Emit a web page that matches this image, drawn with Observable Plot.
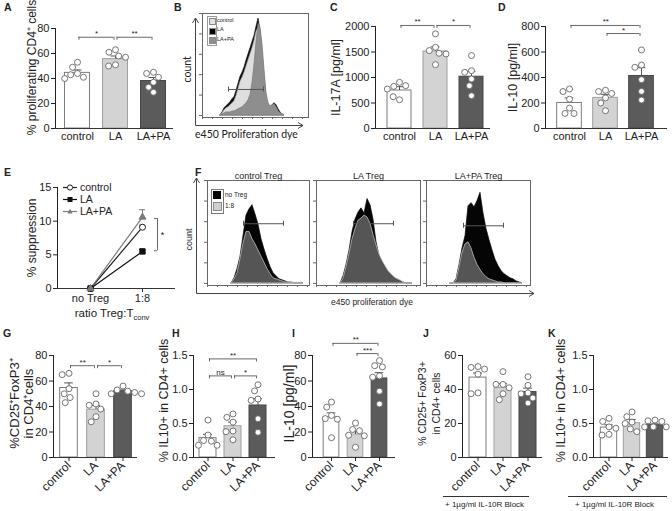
<!DOCTYPE html>
<html>
<head>
<meta charset="utf-8">
<script src="https://cdn.jsdelivr.net/npm/d3@7"></script>
<script src="https://cdn.jsdelivr.net/npm/@observablehq/plot@0.6"></script>
<style>
  html, body { margin: 0; padding: 0; background: #fff; }
  #fig { position: relative; width: 672px; height: 511px; overflow: hidden; background: #fff;
         font-family: 'Liberation Sans', Arial, sans-serif; color: #222; }
</style>
</head>
<body>
<div id="fig"></div>
<script>
// ================= DATA =================
const cats = ["control", "LA", "LA+PA"];

// A: % proliferating CD4+ cells
const aControl = [53, 49, 44, 43, 41, 40];
const aLA = [63, 61, 58, 57, 51, 50];
const aLAPA = [45, 44, 41, 37, 33, 29];
const aMean = [44.5, 55.5, 38];
const aSem = [2.3, 2.5, 2.8];
const aTicks = [0, 20, 40, 60, 80];
const aSig = [{a: "control", b: "LA", y: 73, label: "*"}, {a: "LA", b: "LA+PA", y: 73, label: "**"}];

// C: IL-17A [pg/ml]
const cControl = [905, 826, 840, 774, 564, 623];
const cLA = [1856, 1593, 1528, 1475, 1462, 1252];
const cLAPA = [1430, 1134, 1102, 970, 839, 643];
const cMean = [745, 1510, 1015];
const cSem = [75, 90, 105];
const cTicks = [0, 500, 1000, 1500, 2000];
const cSig = [{a: "control", b: "LA", y: 2020, label: "**"}, {a: "LA", b: "LA+PA", y: 2020, label: "*"}];

// D: IL-10 [pg/ml]
const dControl = [310, 290, 230, 160, 118, 118];
const dLA = [300, 290, 275, 240, 200, 139];
const dLAPA = [616, 498, 480, 383, 291, 223];
const dMean = [200, 240, 412];
const dSem = [40, 28, 65];
const dTicks = [0, 200, 400, 600, 800];
const dSig = [{a: "control", b: "LA+PA", y: 808, label: "**"}, {a: "LA", b: "LA+PA", y: 745, label: "*"}];

// G: %CD25+FoxP3+ in CD4+ cells
const gControl = [66, 65, 54, 50, 47, 43];
const gLA = [50, 42, 41, 38, 32, 28];
const gLAPA = [56, 53, 52, 51, 50, 50];
const gMean = [54.5, 37.5, 52];
const gSem = [4, 3.3, 1];
const gTicks = [0, 20, 40, 60, 80];
const gSig = [{a: "control", b: "LA", y: 72, label: "**"}, {a: "LA", b: "LA+PA", y: 72, label: "*"}];

// H: % IL10+ in CD4+ cells
const hControl = [0.55, 0.33, 0.25, 0.24, 0.18, 0.18];
const hLA = [0.64, 0.59, 0.52, 0.39, 0.38, 0.26];
const hLAPA = [1.07, 0.98, 0.86, 0.84, 0.57, 0.37];
const hMean = [0.285, 0.46, 0.765];
const hSem = [0.055, 0.06, 0.1];
const hTicks = [0, 0.5, 1, 1.5];
const hSig = [{a: "control", b: "LA+PA", y: 1.45, label: "**"}, {a: "control", b: "LA", y: 1.2, label: "ns"}, {a: "LA", b: "LA+PA", y: 1.2, label: "*"}];

// I: IL-10 [pg/ml]
const iControl = [43.5, 39.5, 33, 30.5, 30, 15.5];
const iLA = [27, 22, 21, 17.5, 17, 8];
const iLAPA = [76, 72, 71, 64, 63, 52, 42];
const iMean = [31.5, 18, 62];
const iSem = [3.5, 2.2, 4.5];
const iTicks = [0, 20, 40, 60, 80];
const iSig = [{a: "control", b: "LA+PA", y: 89.5, label: "**"}, {a: "LA", b: "LA+PA", y: 81.5, label: "***"}];

// J: % CD25+ FoxP3+ in CD4+ cells (+ IL-10R block)
const jControl = [53.5, 53, 52, 49, 38, 37.5];
const jLA = [50.5, 43, 43, 41, 37.5, 34];
const jLAPA = [47.5, 42.5, 38, 37.5, 35, 32];
const jMean = [47, 41, 38.5];
const jSem = [2.7, 2.4, 2.3];
const jTicks = [0, 20, 40, 60];

// K: % IL10+ in CD4+ cells (+ IL-10R block)
const kControl = [0.575, 0.53, 0.45, 0.43, 0.34, 0.33];
const kLA = [0.67, 0.6, 0.52, 0.5, 0.42, 0.38];
const kLAPA = [0.55, 0.54, 0.53, 0.45, 0.45, 0.45];
const kMean = [0.44, 0.505, 0.475];
const kSem = [0.04, 0.055, 0.02];
const kTicks = [0, 0.5, 1, 1.5];

// E: % suppression
const eRatio = ["no Treg", "1:8"];
const eControl = [0, 9.1];
const eControlSem = [0, 0.3];
const eLA = [0, 5.5];
const eLASem = [0, 0.35];
const eLAPA = [0, 10.6];
const eLAPASem = [0, 1.1];
const eTicks = [0, 5, 10, 15];
const eSig = {r: "1:8", y1: 5.6, y2: 10.4, label: "*"};

// B: proliferation histograms (counts per dye bin)
const bBins = [18,20,22,24,26,28,30,32,34,36,38,40,42,44,46,48,50,52,54,56,58,60,62,64,66,68,70,72,74,76,78,80,82];
const bLA =      [0,3,7,9,11,13,16,18,24,31,38,42,47,54,60,66,72,78,87,95,83,59,35,17,10,6,10,12,10,6,3,1,0];
const bControl = [0,2,5,7,8,10,12,14,19,26,33,37,42,48,54,60,66,73,82,86,80,62,38,18,10,7,8,9,7,4,2,1,0];
const bLAPA =    [0,1,2,3,3,3,4,4,5,6,7,8,10,12,15,20,32,50,72,90,86,70,45,22,12,9,10,11,8,4,2,1,0];
const bGate = {x1: 26, x2: 61, y: 25.5};

// F: suppression histograms
const fBins = [24,27,30,33,36,39,42,45,48,51,54,57,60,63,66,69,72,75,78,81,84,87,90,93,96];
const fControlNoTreg = [0,5,14,26,46,66,72,76,67,57,43,33,24,16,10,7,4,3,2,1,1,0,0,0,0];
const fControl18 =     [0,4,10,24,39,50,50,43,38,32,26,20,14,9,5,4,3,2,1,1,1,0,0,0,0];
const fLANoTreg =      [0,7,18,32,50,62,69,73,68,82,76,62,40,27,19,14,10,8,5,4,2,1,0,0,0];
const fLA18 =          [0,5,16,29,43,53,61,63,66,64,58,47,37,28,22,17,12,9,6,4,3,1,0,0,0];
const fLAPANoTreg =    [0,0,4,18,34,46,75,78,74,80,88,68,53,42,32,23,17,12,9,7,5,4,2,1,0];
const fLAPA18 =        [0,0,3,16,30,38,40,34,25,18,13,9,6,4,3,2,1,1,0,0,0,0,0,0,0];
const fTitles = ["control Treg", "LA Treg", "LA+PA Treg"];
const fGates = [{x1: 36, x2: 76, y: 58}, {x1: 37, x2: 77, y: 58}, {x1: 37, x2: 77, y: 56}];

// ================= DRAWING =================
const fig = document.getElementById("fig");
const FONT = "'Liberation Sans', Arial, Helvetica, sans-serif";
const baseStyle = {background: "transparent", fontFamily: FONT, fontSize: "11px", color: "#222", overflow: "visible"};
const barFills = ["#ffffff", "#d3d3d3", "#5b5b5b"];
const barStrokes = ["#7d7d7d", "#a0a0a0", "#474747"];

function put(node, left, top) {
  node.style.position = "absolute";
  node.style.left = left + "px";
  node.style.top = top + "px";
  fig.appendChild(node);
  return node;
}
function html(content, left, top, css) {
  const d = document.createElement("div");
  if (css) d.style.cssText = css;
  d.innerHTML = content;
  return put(d, left, top);
}

// decorative arrow axes for the flow histograms
const ns = "http://www.w3.org/2000/svg";
const deco = document.createElementNS(ns, "svg");
deco.setAttribute("width", 672);
deco.setAttribute("height", 511);
function arrowAxes(x0, y0, yEnd, xEnd) {
  const p = document.createElementNS(ns, "path");
  p.setAttribute("d", `M${x0},${y0}V${yEnd}M${x0 - 3},${yEnd + 5}L${x0},${yEnd}L${x0 + 3},${yEnd + 5}M${x0},${y0}H${xEnd}M${xEnd - 5},${y0 - 3}L${xEnd},${y0}L${xEnd - 5},${y0 + 3}`);
  p.setAttribute("fill", "none");
  p.setAttribute("stroke", "#444");
  p.setAttribute("stroke-width", "1");
  deco.appendChild(p);
}
arrowAxes(195.5, 125.5, 18, 303);
arrowAxes(196.5, 293.5, 178, 534);
put(deco, 0, 0);

function barPanel(o) {
  const ml = o.fx0 - o.left, mr = o.left + o.width - o.fx1;
  const mt = o.yTop - o.top, mb = o.top + o.height - o.yBot;
  const bw = (o.bx1 - o.bx0) / cats.length;
  const inset = (bw - o.barW) / 2;
  const summary = cats.map((c, i) => ({cat: c, mean: o.means[i], top: o.means[i] + o.sems[i]}));
  const dots = cats.flatMap((c, i) => o.points[i].map(v => ({cat: c, v})));
  const gap = 1.5;
  const br = o.brackets || [];
  const sty = {stroke: "#444", strokeWidth: 0.8};
  const yDomain = [o.ticks[0], o.ticks[o.ticks.length - 1]];
  const p1 = Plot.plot({
    width: o.width, height: o.height,
    marginLeft: ml, marginRight: mr, marginTop: mt, marginBottom: mb,
    style: baseStyle,
    x: {domain: cats, padding: 0, insetLeft: o.bx0 - o.fx0, insetRight: o.fx1 - o.bx1},
    y: {domain: yDomain, ticks: o.ticks, tickFormat: o.fmt || (d => String(d)), tickSize: 4, tickPadding: 2, line: true, label: null},
    marks: [
      ...cats.map((c, i) => Plot.barY(summary.filter(d => d.cat === c), {x: "cat", y: "mean", fill: barFills[i], stroke: barStrokes[i], strokeWidth: 1, insetLeft: inset, insetRight: inset})),
      Plot.ruleX(summary, {x: "cat", y1: "mean", y2: "top", stroke: "#555"}),
      Plot.tickY(summary, {x: "cat", y: "top", stroke: "#555", insetLeft: bw / 2 - 4.5, insetRight: bw / 2 - 4.5}),
      Plot.ruleY([o.ticks[0]], {stroke: "#333"}),
      Plot.axisX({tickSize: o.rotate ? 4 : 0, tickPadding: o.rotate ? 2 : 4, tickRotate: o.rotate ? -45 : 0, fontSize: o.rotate ? 12 : 11, label: null}),
      Plot.ruleY(br, {x1: "a", x2: "b", y: "y", insetLeft: bw / 2 + gap, insetRight: bw / 2 + gap, ...sty}),
      Plot.ruleX(br, {x: "a", y1: "y", y2: "y", dx: gap, insetBottom: -3, ...sty}),
      Plot.ruleX(br, {x: "b", y1: "y", y2: "y", dx: -gap, insetBottom: -3, ...sty}),
      ...br.map(b => Plot.text([b], {x: "a", y: "y", text: "label", dx: (cats.indexOf(b.b) - cats.indexOf(b.a)) * bw / 2, dy: -1, lineAnchor: "bottom", fontSize: 8})),
      Plot.text([o.ylabel], {text: d => d, frameAnchor: "left", textAnchor: "middle", rotate: -90, dx: o.ylx - o.fx0, dy: o.yly - (o.yTop + o.yBot) / 2, fontSize: o.ylSize, lineHeight: o.lineHeight || 1.1})
    ]
  });
  put(p1, o.left, o.top);
  const p2 = Plot.plot({
    width: o.width, height: o.height,
    marginLeft: o.bx0 - o.left, marginRight: o.left + o.width - o.bx1, marginTop: mt, marginBottom: mb,
    style: baseStyle,
    fx: {domain: cats, padding: 0, axis: null, label: null},
    y: {domain: yDomain, axis: null},
    marks: [
      Plot.dot(dots, Plot.dodgeX("middle", {fx: "cat", y: "v", r: 3, fill: "white", stroke: "#666", strokeWidth: 0.9}))
    ]
  });
  put(p2, o.left, o.top);
}

function histPanel(o) {
  const fw = o.fx1 - o.fx0;
  const marks = [
    ...o.layers.map(l => Plot.areaY(o.bins.map((b, i) => ({b, c: l.values[i]})), {x: "b", y: "c", fill: l.fill, stroke: l.stroke, strokeWidth: 0.7, curve: "linear"})),
    Plot.frame({stroke: "#666"}),
    Plot.axisY({ticks: 4, tickSize: 3, tickFormat: () => "", label: null, stroke: "#666"}),
    Plot.axisX({ticks: 14, tickSize: 2, tickFormat: () => "", label: null, stroke: "#666"}),
    Plot.ruleY([o.gate], {x1: "x1", x2: "x2", y: "y", stroke: "#555"}),
    Plot.ruleX([o.gate], {x: "x1", y1: "y", y2: "y", insetTop: -2.5, insetBottom: -2.5, stroke: "#555"}),
    Plot.ruleX([o.gate], {x: "x2", y1: "y", y2: "y", insetTop: -2.5, insetBottom: -2.5, stroke: "#555"})
  ];
  if (o.title) marks.push(Plot.text([o.title], {text: d => d, frameAnchor: "top", dy: -2, lineAnchor: "bottom", fontSize: 9}));
  const p = Plot.plot({
    width: o.width, height: o.height,
    marginLeft: o.fx0 - o.left, marginRight: o.left + o.width - o.fx1,
    marginTop: o.fy0 - o.top, marginBottom: o.top + o.height - o.fy1,
    style: baseStyle,
    x: {domain: [0, fw]},
    y: {domain: [-2, 100]},
    marks
  });
  put(p, o.left, o.top);
}

// ---- Row 1 bar panels
barPanel({left: 0, top: 0, width: 178, height: 150, fx0: 55, fx1: 173, yTop: 28, yBot: 128, bx0: 58, bx1: 172, barW: 25,
  ticks: aTicks, means: aMean, sems: aSem, points: [aControl, aLA, aLAPA], brackets: aSig,
  ylabel: "% proliferating CD4⁺ cells", ylx: 31, yly: 67, ylSize: 12});
barPanel({left: 320, top: 0, width: 175, height: 150, fx0: 375, fx1: 490, yTop: 26, yBot: 128, bx0: 381, bx1: 489, barW: 24,
  ticks: cTicks, means: cMean, sems: cSem, points: [cControl, cLA, cLAPA], brackets: cSig,
  ylabel: "IL-17A [pg/ml]", ylx: 335, yly: 77, ylSize: 12.5});
barPanel({left: 495, top: 0, width: 177, height: 150, fx0: 545, fx1: 667, yTop: 26, yBot: 128, bx0: 550, bx1: 659, barW: 25,
  ticks: dTicks, means: dMean, sems: dSem, points: [dControl, dLA, dLAPA], brackets: dSig,
  ylabel: "IL-10 [pg/ml]", ylx: 512, yly: 77, ylSize: 12.5});

// ---- Row 3 bar panels
barPanel({left: 0, top: 335, width: 142, height: 176, fx0: 53, fx1: 137, yTop: 355, yBot: 457, bx0: 54, bx1: 136, barW: 18, rotate: true,
  ticks: gTicks, means: gMean, sems: gSem, points: [gControl, gLA, gLAPA], brackets: gSig,
  ylabel: "%CD25⁺FoxP3⁺\nin CD4⁺cells", ylx: 21, yly: 403, ylSize: 13, lineHeight: 1.1});
barPanel({left: 142, top: 335, width: 137, height: 176, fx0: 193, fx1: 275, yTop: 355, yBot: 457, bx0: 194.5, bx1: 269.5, barW: 17, rotate: true,
  ticks: hTicks, fmt: d3.format(".1f"), means: hMean, sems: hSem, points: [hControl, hLA, hLAPA], brackets: hSig,
  ylabel: "% IL10+ in CD4+ cells", ylx: 163, yly: 400, ylSize: 12.5});
barPanel({left: 279, top: 330, width: 121, height: 181, fx0: 312, fx1: 395, yTop: 355, yBot: 457, bx0: 318, bx1: 391, barW: 16, rotate: true,
  ticks: iTicks, means: iMean, sems: iSem, points: [iControl, iLA, iLAPA], brackets: iSig,
  ylabel: "IL-10 [pg/ml]", ylx: 289, yly: 403, ylSize: 14});
barPanel({left: 400, top: 335, width: 145, height: 176, fx0: 462, fx1: 542, yTop: 355, yBot: 457, bx0: 464.5, bx1: 539.5, barW: 17, rotate: true,
  ticks: jTicks, means: jMean, sems: jSem, points: [jControl, jLA, jLAPA],
  ylabel: "% CD25+ FoxP3+\nin CD4+ cells", ylx: 428, yly: 403, ylSize: 10.5, lineHeight: 1.35});
barPanel({left: 545, top: 335, width: 127, height: 176, fx0: 593, fx1: 668, yTop: 355, yBot: 457, bx0: 596, bx1: 667, barW: 17, rotate: true,
  ticks: kTicks, fmt: d3.format(".1f"), means: kMean, sems: kSem, points: [kControl, kLA, kLAPA],
  ylabel: "% IL10+ in CD4+ cells", ylx: 560, yly: 400, ylSize: 12.5});

// IL-10R block annotations
html("", 443, 496, "width:86px;height:0;border-top:1px solid #333;");
html("+ 1µg/ml IL-10R Block", 445, 501, "font-size:8px;white-space:nowrap;line-height:1;");
html("", 568, 496, "width:99px;height:0;border-top:1px solid #333;");
html("+ 1µg/ml IL-10R Block", 575, 501, "font-size:8px;white-space:nowrap;line-height:1;");

// ---- E: suppression line chart
const eSeries = [
  {name: "control", values: eControl, sems: eControlSem, color: "#222", symbol: "circle", fill: "white", r: 3},
  {name: "LA", values: eLA, sems: eLASem, color: "#111", symbol: "square", fill: "#111", r: 3},
  {name: "LA+PA", values: eLAPA, sems: eLAPASem, color: "#7a7a7a", symbol: "triangle", fill: "#7a7a7a", r: 2.6}
];
const eRows = eSeries.map(s => eRatio.map((r, i) => ({series: s.name, r, v: s.values[i], sem: s.sems[i]})));
const eSty = {stroke: "#444", strokeWidth: 0.8};
const eMarks = [
  Plot.ruleY([0], {stroke: "#333"}),
  ...eSeries.map((s, k) => Plot.line(eRows[k], {x: "r", y: "v", stroke: s.color, strokeWidth: 1.2})),
  ...eSeries.map((s, k) => Plot.ruleX(eRows[k].filter(d => d.sem > 0), {x: "r", y1: "v", y2: d => d.v + d.sem, stroke: s.color})),
  ...eSeries.map((s, k) => Plot.ruleY(eRows[k].filter(d => d.sem > 0), {x1: "r", x2: "r", y: d => d.v + d.sem, insetLeft: -3, insetRight: -3, stroke: s.color})),
  ...eSeries.map((s, k) => Plot.dot(eRows[k], {x: "r", y: "v", symbol: s.symbol, r: s.r, fill: s.fill, stroke: s.color, strokeWidth: 1})),
  Plot.ruleX([eSig], {x: "r", y1: "y1", y2: "y2", dx: 15, ...eSty}),
  Plot.ruleY([eSig], {x1: "r", x2: "r", y: "y1", insetLeft: 12, insetRight: -15, ...eSty}),
  Plot.ruleY([eSig], {x1: "r", x2: "r", y: "y2", insetLeft: 12, insetRight: -15, ...eSty}),
  Plot.text([eSig], {x: "r", y: d => (d.y1 + d.y2) / 2, text: "label", dx: 20, fontSize: 9}),
  Plot.text(["% suppression"], {text: d => d, frameAnchor: "left", textAnchor: "middle", rotate: -90, dx: -25, dy: 0, fontSize: 12})
];
put(Plot.plot({
  width: 180, height: 160, marginLeft: 57, marginRight: 5, marginTop: 19, marginBottom: 40,
  style: baseStyle,
  x: {type: "point", domain: eRatio, padding: 0.63, tickSize: 4, tickPadding: 2, label: null},
  y: {domain: [0, 15], ticks: eTicks, tickSize: 4, tickPadding: 2, line: true, label: null},
  marks: eMarks
}), 0, 168);
// E legend
const legE = eSeries.map(s => {
  let sym;
  if (s.symbol === "circle") sym = `<circle cx="7" cy="4.5" r="2.6" fill="white" stroke="${s.color}"/>`;
  else if (s.symbol === "square") sym = `<rect x="4.5" y="2" width="5" height="5" fill="${s.color}"/>`;
  else sym = `<path d="M7,1.8L9.6,6.6H4.4Z" fill="${s.color}"/>`;
  return `<div style="display:flex;align-items:center;height:12px;"><svg width="14" height="9"><line x1="0" y1="4.5" x2="14" y2="4.5" stroke="${s.color}" stroke-width="1.2"/>${sym}</svg><span style="margin-left:3px;">${s.name}</span></div>`;
}).join("");
html(legE, 63, 181, "font-size:10.5px;line-height:12px;");
html("ratio Treg:T<sub style='font-size:7.5px;'>conv</sub>", 50, 308, "width:124px;text-align:center;font-size:11.5px;line-height:1;");

// ---- B: histogram
histPanel({left: 190, top: 5, width: 122, height: 118, fx0: 202, fx1: 308, fy0: 13, fy1: 117, bins: bBins,
  layers: [
    {values: bLA, fill: "#0d0d0d", stroke: "#0d0d0d"},
    {values: bControl, fill: "#dedede", stroke: "#a8a8a8"},
    {values: bLAPA, fill: "#8e8e8e", stroke: "#7a7a7a"}
  ], gate: bGate});
html("count", 174, 64, "transform:rotate(-90deg);font-family:Lato,sans-serif;font-size:10.5px;line-height:1;");
html("e450 Proliferation dye", 195, 129, "font-family:Lato,sans-serif;font-size:10.5px;white-space:nowrap;line-height:1;");
html("", 207, 16, "width:8px;height:28px;border:0.5px solid #999;");
const bLegend = [["control", "#e2e2e2"], ["LA", "#000"], ["LA+PA", "#8e8e8e"]];
bLegend.forEach(([t, c], i) => {
  html("", 209, 18 + i * 9.5, `width:5px;height:5px;background:${c};border:0.5px solid #888;`);
  html(t, 217, 17.5 + i * 9.5, "font-size:5.5px;line-height:1;white-space:nowrap;");
});

// ---- F: three histograms
const fBoxes = [[207, 309], [316, 420], [426, 530]];
const fData = [[fControlNoTreg, fControl18], [fLANoTreg, fLA18], [fLAPANoTreg, fLAPA18]];
fBoxes.forEach(([x0, x1], k) => {
  histPanel({left: x0 - 12, top: 166, width: x1 - x0 + 16, height: 125, fx0: x0, fx1: x1, fy0: 180, fy1: 285, bins: fBins,
    layers: [
      {values: fData[k][0], fill: "#050505", stroke: "#050505"},
      {values: fData[k][1], fill: "#555555", stroke: "#cfcfcf"}
    ], gate: fGates[k], title: fTitles[k]});
});
html("count", 178, 235, "transform:rotate(-90deg);font-size:9px;line-height:1;");
html("e450 proliferation dye", 322, 298, "width:100px;text-align:center;font-size:8.5px;white-space:nowrap;line-height:1;");
html("", 211, 189, "width:11px;height:23px;border:0.5px solid #777;");
html("", 213, 191, "width:8px;height:8px;background:#000;");
html("", 213, 202, "width:7px;height:7px;background:#d0d0d0;border:0.5px solid #888;");
html("no Treg", 225, 192, "font-size:6.5px;line-height:1;white-space:nowrap;");
html("1:8", 225, 203, "font-size:6.5px;line-height:1;white-space:nowrap;");

// ---- Panel letters
[["A", 4, 2], ["B", 174, 2], ["C", 330, 2], ["D", 498, 2], ["E", 4, 167], ["F", 195, 167],
 ["G", 3, 328], ["H", 172, 328], ["I", 292, 328], ["J", 423, 328], ["K", 548, 328]]
  .forEach(([t, x, y]) => html(t, x, y, "font-weight:bold;font-size:10.5px;line-height:1;"));
</script>
</body>
</html>
